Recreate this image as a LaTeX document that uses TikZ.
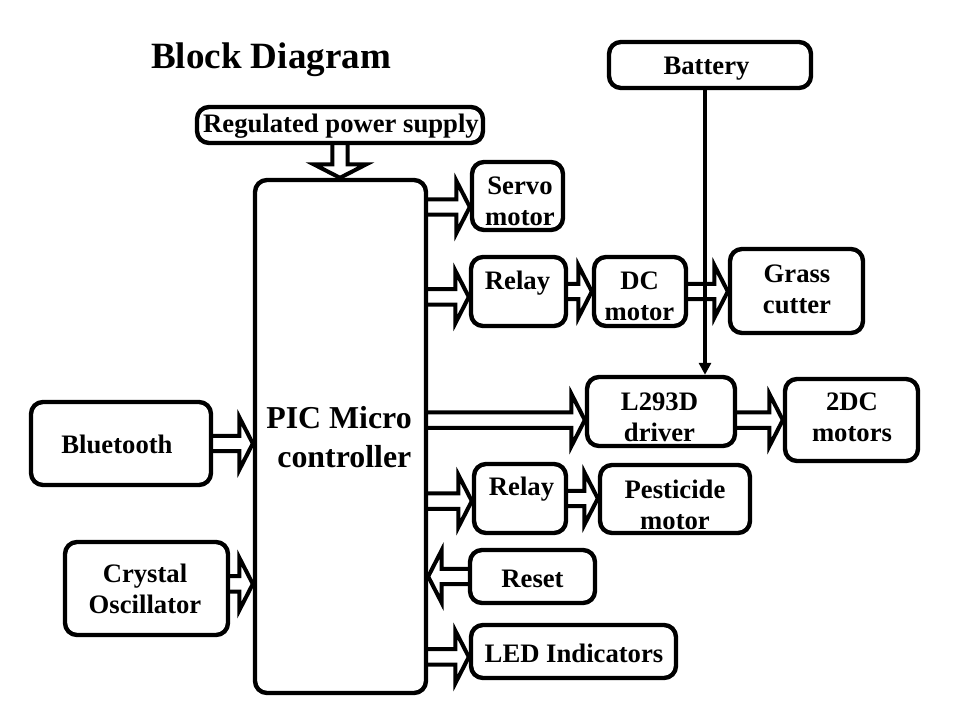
\documentclass[tikz,border=0pt]{standalone}
\usepackage{fontspec}
\setmainfont{Liberation Serif}
\usetikzlibrary{calc,backgrounds,arrows.meta}
\tikzset{
 box/.style={draw, line width=3.3pt, rounded corners=9pt, fill=white, inner sep=0pt},
 sz/.style 2 args={minimum width=#1*0.75pt, minimum height=#2*0.75pt},
 txt/.style={anchor=base, inner sep=0pt, font=\fontsize{20}{23.25}\selectfont\bfseries},
 bigtxt/.style={anchor=base, inner sep=0pt, font=\fontsize{23.9}{29.25}\selectfont\bfseries},
 barrow/.style={draw, fill=white, line width=3pt, line join=miter},
 battline/.style={line width=3.2pt, -{Triangle[length=9pt,width=9pt]}},
}
\def\bsw{5.8pt}\def\bhw{19.5pt}\def\bhl{10pt}
\newcommand\twol[2]{\vtop{\hbox{\makebox[0pt]{#1}}\hbox{\makebox[0pt]{#2}}}}
\newcommand\blkarrow[2]{%
 \coordinate (HH) at ($(#2)!\bhl!(#1)$);
 \path[barrow] ($(#1)!\bsw!90:(#2)$) -- ($(HH)!\bsw!90:(#2)$) -- ($(HH)!\bhw!90:(#2)$) -- (#2) -- ($(HH)!\bhw!-90:(#2)$) -- ($(HH)!\bsw!-90:(#2)$) -- ($(#1)!\bsw!-90:(#2)$);}
\begin{document}
\begin{tikzpicture}[x=0.75pt,y=-0.75pt]
\useasboundingbox (0,0) rectangle (960,720);
\node[font=\fontsize{27.8}{33}\selectfont\bfseries, anchor=base, inner sep=0pt] (title) at (271,69) {Block Diagram};
% boxes
\node[box, sz={202}{46}] (battery) at (710,65) {};
\node[box, sz={286}{36}] (rps) at (340,125) {};
\node[box, sz={171}{513}] (pic) at (340.5,436.5) {};
\node[box, sz={91}{68}] (servo) at (517.5,196) {};
\node[box, sz={95}{69}] (relay1) at (518.5,291.5) {};
\node[box, sz={92}{69}] (dc) at (640,291.5) {};
\node[box, sz={133}{84}] (grass) at (796.5,291) {};
\node[box, sz={148}{69}] (l293) at (661,411.5) {};
\node[box, sz={133}{82}] (twodc) at (851.5,420) {};
\node[box, sz={92}{69}] (relay2) at (520,498.5) {};
\node[box, sz={150}{68}] (pest) at (675,499) {};
\node[box, sz={125}{53}] (reset) at (532.5,576.5) {};
\node[box, sz={205}{53}] (led) at (573.5,651.5) {};
\node[box, sz={180}{83}] (bt) at (121,443.5) {};
\node[box, sz={163}{93}] (xtal) at (146.5,588.5) {};
% texts
\node[txt] (batteryT) at (706.5,75) {Battery};
\node[txt] (rpsT) at (341,133) {Regulated power supply};
\node[bigtxt] (picT) at (339,428) {\twol{PIC Micro}{\hspace*{8pt}controller}};
\node[txt] (servoT) at (520,195) {\twol{Servo}{motor}};
\node[txt] (relay1T) at (517.5,290) {Relay};
\node[txt] (dcT) at (639.5,290) {\twol{DC}{motor}};
\node[txt] (grassT) at (797,282) {\twol{Grass}{cutter}};
\node[txt] (l293T) at (659.5,410) {\twol{L293D}{driver}};
\node[txt] (twodcT) at (852,410) {\twol{2DC}{motors}};
\node[txt] (relay2T) at (521.5,495) {Relay};
\node[txt] (pestT) at (675,498) {\twol{Pesticide}{motor}};
\node[txt] (resetT) at (532.5,587) {Reset};
\node[txt] (ledT) at (574,662) {LED Indicators};
\node[txt] (btT) at (117,453) {Bluetooth};
\node[txt] (xtalT) at (145,582) {\twol{Crystal}{Oscillator}};
% connector end points
\coordinate (a1s) at (rps.south);
\coordinate (a1t) at (rps.south |- pic.north);
\coordinate (a2t) at ([yshift=-8.25pt]servo.west);
\coordinate (a2s) at (a2t -| pic.east);
\coordinate (a3t) at ([yshift=-4.1pt]relay1.west);
\coordinate (a3s) at (a3t -| pic.east);
\coordinate (a4s) at (relay1.east);
\coordinate (a4t) at (relay1.east -| dc.west);
\coordinate (a5s) at (dc.east);
\coordinate (a5t) at (dc.east -| grass.west);
\coordinate (a6t) at ([yshift=-6.4pt]l293.west);
\coordinate (a6s) at (a6t -| pic.east);
\coordinate (a7s) at ([yshift=-6.4pt]l293.east);
\coordinate (a7t) at (a7s -| twodc.west);
\coordinate (a8t) at ([yshift=-1.9pt]relay2.west);
\coordinate (a8s) at (a8t -| pic.east);
\coordinate (a9s) at (relay2.east);
\coordinate (a9t) at (relay2.east -| pest.west);
\coordinate (a10s) at (reset.west);
\coordinate (a10t) at (reset.west -| pic.east);
\coordinate (a11t) at ([yshift=-4.1pt]led.west);
\coordinate (a11s) at (a11t -| pic.east);
\coordinate (a12s) at (bt.east);
\coordinate (a12t) at (bt.east -| pic.west);
\coordinate (a13s) at ([yshift=3.4pt]xtal.east);
\coordinate (a13t) at (a13s -| pic.west);
\begin{pgfonlayer}{background}
\blkarrow{a1s}{a1t}
\blkarrow{a2s}{a2t}
\blkarrow{a3s}{a3t}
\blkarrow{a4s}{a4t}
\blkarrow{a5s}{a5t}
\blkarrow{a6s}{a6t}
\blkarrow{a7s}{a7t}
\blkarrow{a8s}{a8t}
\blkarrow{a9s}{a9t}
\blkarrow{a10s}{a10t}
\blkarrow{a11s}{a11t}
\blkarrow{a12s}{a12t}
\blkarrow{a13s}{a13t}
\end{pgfonlayer}
\coordinate (bs) at ([xshift=-3.75pt]battery.south);
\draw[battline] (bs) -- (bs |- l293.north);
\end{tikzpicture}
\end{document}
